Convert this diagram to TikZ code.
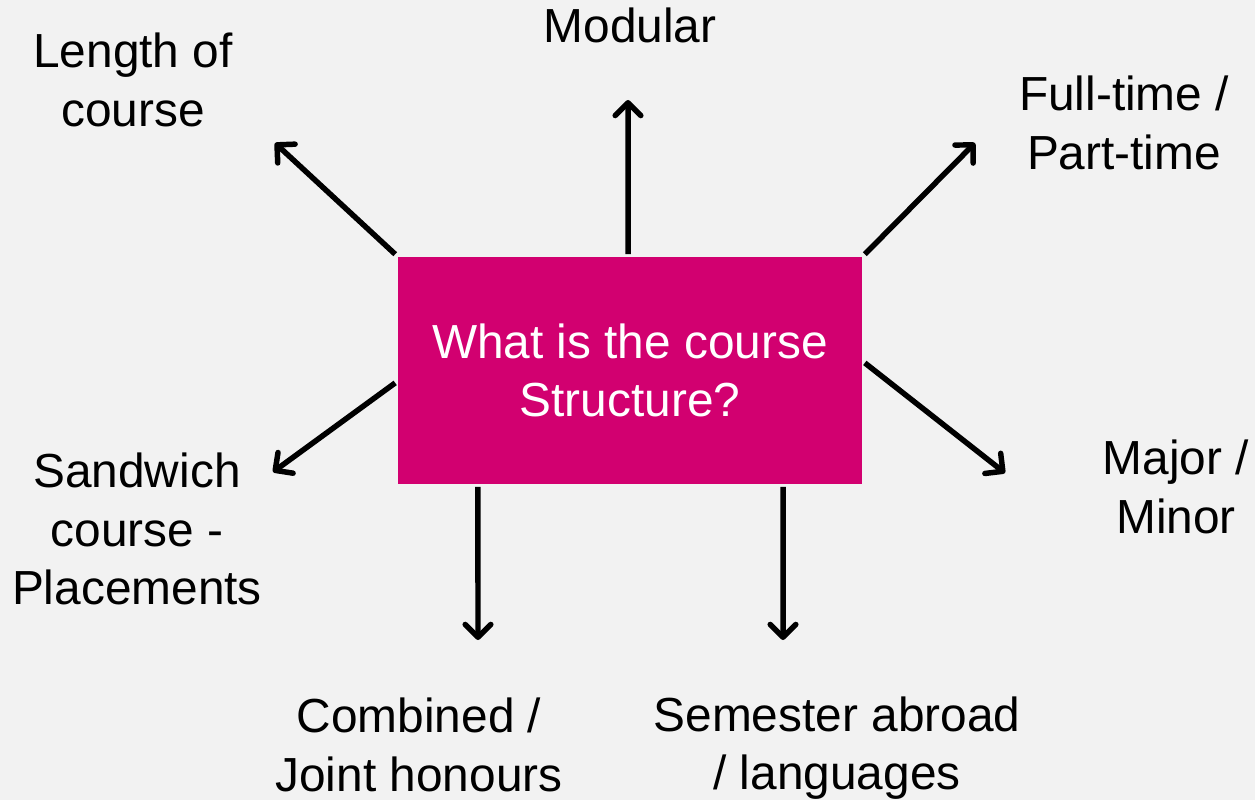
\documentclass[tikz,border=0pt]{standalone}
\usepackage{fontspec}
\setmainfont{Liberation Sans}
\usetikzlibrary{arrows.meta,positioning}
\definecolor{boxpink}{HTML}{D20070}
\definecolor{slidegrey}{HTML}{F2F2F2}

\begin{document}
\begin{tikzpicture}[x=0.025cm,y=-0.025cm,>={Straight Barb[length=3.2mm,width=6.4mm,round]},line width=3.9pt,
  lbl/.style={align=center,font=\fontsize{34}{41.5}\selectfont,inner sep=0pt}]
\fill[slidegrey] (0,0) rectangle (1255,800);
\useasboundingbox (0,0) rectangle (1255,800);

\node [lbl,fill=boxpink,text=white,minimum width=11.6cm,minimum height=5.675cm] at (630,370.5) (q) {What is the course\\Structure?};

\node [lbl,anchor=base] at (630,43) (modu) {Modular};
\node [lbl] at (133,80) (lenc) {Length of\\course};
\node [lbl] at (1124,123) (fullt) {Full-time /\\Part-time};
\node [lbl] at (137,529) (sandw) {Sandwich\\course -\\Placements};
\node [lbl] at (1176,487) (majmin) {Major /\\Minor};
\node [lbl] at (419,745) (combj) {Combined /\\Joint honours};
\node [lbl] at (837,748) (semab) {Semester abroad\\/ languages};

\coordinate (modu-end) at (628,100);
\coordinate (lenc-end) at (275,143);
\coordinate (fullt-end) at (975,143);
\coordinate (sandw-end) at (273,472);
\coordinate (majmin-end) at (1005,473);
\coordinate (combj-end) at (478,640);
\coordinate (semab-end) at (783,640);

\draw [->] ([xshift=-0.05cm]q.north) -- (modu-end);
\draw [->] (q.north west) -- (lenc-end);
\draw [->] (q.north east) -- (fullt-end);
\draw [->] ([yshift=-0.31cm]q.west) -- (sandw-end);
\draw [->] ([yshift=0.19cm]q.east) -- (majmin-end);
\draw [->] ([xshift=-3.8cm]q.south) -- (combj-end);
\draw [->] ([xshift=3.825cm]q.south) -- (semab-end);
\end{tikzpicture}
\end{document}
